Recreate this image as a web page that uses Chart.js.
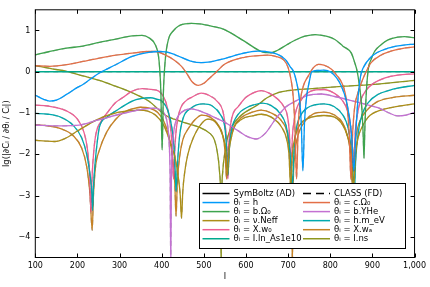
<!DOCTYPE html>
<html><head><meta charset="utf-8">
<script src="https://cdn.jsdelivr.net/npm/chart.js@4/dist/chart.umd.min.js"></script>
<style>html,body{margin:0;padding:0;background:#fff}canvas{display:block}</style>
</head><body>
<canvas id="c" width="430" height="287"></canvas>
<script>
// ---- data (multipole l, lg|dCl/dθ / Cl|) ----
const xTickVals = [100,200,300,400,500,600,700,800,900,1000];
const yTickVals = [-4,-3,-2,-1,0,1];

const lH = [100,120,134,150,174,200,213,252,291,330,369,393,410,432,471,494,510,549,590,628,645,675,693,705,713,720,726,731,735,739,744,750,756,770,784,800,815,826,838,846,851,856,861,867,872,878,898,937,970,1000];
const vH = [-0.57,-0.67,-0.71,-0.69,-0.55,-0.38,-0.31,-0.03,0.17,0.37,0.47,0.49,0.48,0.41,0.25,0.22,0.23,0.32,0.44,0.50,0.49,0.42,0.30,0.12,0.0,-0.25,-0.6,-1.2,-2.4,-1.2,-0.6,-0.25,0.0,0.03,0.04,0.0,-0.15,-0.34,-0.7,-1.14,-1.6,-2.4,-1.4,-0.5,-0.1,0.09,0.37,0.57,0.64,0.67];

const lC = [100,134,174,213,252,291,330,369,385,408,430,447,460,471,487,500,510,530,549,596,630,651,670,690,700,707,712,716,720,724,729,736,748,760,772,785,803,815,827,835,840,845,849,853,858,866,874,885,897,920,944,970,1000];
const vC = [0.15,0.13,0.17,0.25,0.33,0.40,0.45,0.49,0.49,0.41,0.28,0.13,-0.05,-0.23,-0.33,-0.28,-0.19,0.0,0.18,0.35,0.39,0.40,0.37,0.28,0.1,-0.2,-0.6,-1.3,-2.6,-1.3,-0.7,-0.35,-0.1,0.1,0.18,0.16,0.06,-0.08,-0.26,-0.5,-0.85,-1.5,-2.6,-1.5,-0.85,-0.5,-0.26,0.0,0.22,0.40,0.50,0.56,0.60];

const lG = [100,134,174,213,252,291,330,353,370,385,392,395,398,401,404,407,410,413,418,424,444,471,490,520,549,596,643,659,675,698,720,740,764,790,811,830,850,858,864,870,875,878,880,882,885,890,897,905,920,937,960,976,1000];
const vG = [0.41,0.49,0.57,0.62,0.71,0.79,0.87,0.88,0.82,0.65,0.4,0.1,-0.5,-1.9,-0.5,0.1,0.45,0.65,0.85,0.95,1.13,1.17,1.16,1.10,1.02,0.74,0.47,0.46,0.52,0.66,0.78,0.86,0.90,0.86,0.78,0.62,0.45,0.22,0.0,-0.4,-0.9,-1.5,-2.1,-1.4,-0.6,0.05,0.3,0.49,0.65,0.77,0.84,0.85,0.82];

const lY = [100,150,197,252,300,330,360,385,400,408,414,418,420,421.5,423,425,428,432,440,455,471,490,520,549,580,605,624,645,670,695,718,740,760,780,810,850,880,913,940,960,980,1000];
const vY = [-1.29,-1.31,-1.30,-1.16,-1.03,-0.96,-0.90,-0.88,-0.95,-1.04,-1.3,-1.8,-2.6,-4.7,-2.6,-1.9,-1.5,-1.25,-1.06,-0.93,-0.90,-0.95,-1.08,-1.22,-1.42,-1.58,-1.63,-1.5,-1.15,-0.85,-0.71,-0.6,-0.55,-0.54,-0.6,-0.7,-0.78,-0.87,-1.0,-1.07,-1.05,-0.99];

const lN = [100,125,146,170,201,230,260,290,320,345,365,385,405,420,432,440,444,447,450,455,462,475,495,510,530,545,552,556,560,565,572,590,615,636,660,685,697,702,706,710,715,722,735,755,785,810,830,842,850,855,860,866,875,890,920,960,1000];
const vN = [-1.66,-1.68,-1.69,-1.62,-1.43,-1.25,-1.1,-1.0,-0.95,-0.93,-0.95,-1.05,-1.3,-1.7,-2.1,-2.6,-3.0,-3.55,-2.9,-2.4,-2.0,-1.6,-1.25,-1.15,-1.25,-1.55,-1.9,-2.5,-1.9,-1.6,-1.35,-1.15,-1.07,-1.03,-1.1,-1.35,-1.65,-2.0,-2.8,-2.0,-1.65,-1.4,-1.2,-1.1,-1.06,-1.1,-1.3,-1.6,-2.0,-2.8,-2.0,-1.6,-1.35,-1.1,-0.93,-0.84,-0.78];

const lM = [100,130,160,190,210,222,230,234,236,238,242,247,252,270,291,330,350,373,390,400,415,424,429,432,434,437,442,450,470,498,520,540,549,553,557,561,566,580,600,620,639,660,680,695,702,707,710,714,720,730,745,765,785,810,830,842,849,854,857,860,866,875,890,913,940,960,1000];
const vM = [-1.01,-1.03,-1.1,-1.3,-1.6,-2.0,-2.5,-2.9,-3.36,-2.8,-2.2,-1.7,-1.35,-1.1,-0.95,-0.71,-0.65,-0.63,-0.67,-0.71,-0.95,-1.35,-1.8,-2.4,-2.9,-2.3,-1.6,-1.15,-0.88,-0.78,-0.83,-1.05,-1.3,-1.7,-2.5,-1.8,-1.4,-1.05,-0.88,-0.8,-0.76,-0.82,-1.0,-1.3,-1.7,-2.3,-2.8,-1.9,-1.35,-1.05,-0.88,-0.8,-0.78,-0.85,-1.05,-1.35,-1.8,-2.5,-3.0,-2.2,-1.5,-1.05,-0.75,-0.55,-0.45,-0.40,-0.33];

const lW = [100,130,174,200,215,224,229,232,235,239,244,256,268,290,307,330,354,375,393,405,413,419,424,428,432,437,445,458,471,494,510,534,545,550,554,557,560,564,570,581,600,620,636,655,675,690,698,703,707,710,714,720,730,745,765,785,800,820,835,845,850,855,859,865,872,885,900,930,960,1000];
const vW = [-0.81,-0.83,-0.95,-1.15,-1.45,-1.9,-2.5,-3.4,-2.5,-1.9,-1.5,-1.2,-1.03,-0.75,-0.63,-0.47,-0.41,-0.43,-0.47,-0.62,-0.85,-1.2,-1.7,-2.6,-1.7,-1.2,-0.88,-0.7,-0.62,-0.52,-0.56,-0.74,-0.95,-1.25,-1.7,-2.6,-1.7,-1.25,-1.0,-0.85,-0.62,-0.5,-0.46,-0.52,-0.66,-0.85,-1.06,-1.5,-2.5,-1.6,-1.2,-0.9,-0.7,-0.52,-0.44,-0.43,-0.47,-0.6,-0.8,-1.1,-1.5,-2.4,-1.5,-1.0,-0.7,-0.45,-0.3,-0.15,-0.08,-0.05];

const lA = [100,130,160,190,210,222,230,235,238,243,252,270,291,310,330,350,370,390,405,418,426,431,434,437,442,450,465,480,495,515,535,545,550,554,558,563,570,590,615,636,660,685,698,704,708,710,712,716,722,740,760,785,810,830,842,848,852,856,862,870,890,913,950,1000];
const vA = [-1.29,-1.31,-1.38,-1.55,-1.85,-2.3,-3.0,-3.84,-3.0,-2.3,-1.9,-1.45,-1.15,-0.98,-0.9,-0.86,-0.88,-0.98,-1.2,-1.6,-2.1,-2.7,-3.5,-2.7,-2.1,-1.65,-1.35,-1.15,-1.05,-1.1,-1.3,-1.55,-1.9,-2.6,-1.9,-1.55,-1.35,-1.1,-0.98,-0.93,-1.0,-1.2,-1.5,-2.0,-2.8,-4.7,-2.8,-2.0,-1.6,-1.2,-1.02,-0.98,-1.05,-1.25,-1.6,-2.0,-2.7,-2.0,-1.5,-1.2,-0.9,-0.72,-0.62,-0.57];

const lAs = [100,1000];
const vAs = [0,0];

const lS = [100,140,174,213,252,290,330,369,393,408,430,460,490,515,525,532,537,540,541,542,545,550,556,565,588,628,650,678,698,757,835,913,1000];
const vS = [0.15,0.07,0.01,-0.1,-0.21,-0.35,-0.51,-0.71,-0.92,-1.05,-1.15,-1.25,-1.35,-1.5,-1.65,-1.95,-2.4,-3.2,-4.7,-3.2,-2.4,-1.95,-1.6,-1.35,-1.06,-0.8,-0.63,-0.5,-0.46,-0.41,-0.35,-0.30,-0.21];

const seriesLabels = ['θᵢ = h','θᵢ = c.Ω₀','θᵢ = b.Ω₀','θᵢ = b.YHe','θᵢ = ν.Neff','θᵢ = h.m_eV','θᵢ = X.w₀','θᵢ = X.wₐ','θᵢ = I.ln_As1e10','θᵢ = I.ns'];
const seriesL = [lH,lC,lG,lY,lN,lM,lW,lA,lAs,lS];
const seriesV = [vH,vC,vG,vY,vN,vM,vW,vA,vAs,vS];
const colors = ['#009AFA','#E36F47','#3EA44E','#C371D2','#AC8E18','#00AAAE','#ED5E93','#C68225','#00A98D','#8E971D'];

const FONT = 'DejaVu Sans';

function rgba(hex, a) {
  const n = parseInt(hex.slice(1), 16);
  return 'rgba(' + (n >> 16) + ',' + ((n >> 8) & 255) + ',' + (n & 255) + ',' + a + ')';
}

const datasets = [];
seriesLabels.forEach((lab, k) => {
  const pts = seriesL[k].map((x, i) => ({x: x, y: seriesV[k][i]}));
  datasets.push({
    label: lab, data: pts, borderColor: colors[k], backgroundColor: colors[k],
    borderWidth: 1.3, pointRadius: 0, cubicInterpolationMode: 'monotone', fill: false
  });
  datasets.push({
    label: lab, overlay: true, data: pts, borderColor: rgba(colors[k], 0.45), backgroundColor: colors[k],
    borderWidth: 1.3, borderDash: [5, 4], pointRadius: 0, cubicInterpolationMode: 'monotone', fill: false,
    segment: {borderColor: () => 'rgba(40,40,40,0.35)'}
  });
});

const framePlugin = {
  id: 'frame',
  afterDatasetsDraw(chart) {
    const {ctx, chartArea: a, scales} = chart;
    const xs = scales.x, ys = scales.y;
    ctx.save();
    ctx.strokeStyle = '#000';
    ctx.lineWidth = 1;
    ctx.strokeRect(a.left, a.top, a.right - a.left, a.bottom - a.top);
    ctx.beginPath();
    xTickVals.forEach(v => {
      const p = Math.round(xs.getPixelForValue(v)) + 0.5;
      ctx.moveTo(p, a.bottom); ctx.lineTo(p, a.bottom - 4);
      ctx.moveTo(p, a.top); ctx.lineTo(p, a.top + 4);
    });
    yTickVals.forEach(v => {
      const p = Math.round(ys.getPixelForValue(v)) + 0.5;
      ctx.moveTo(a.left, p); ctx.lineTo(a.left + 4, p);
      ctx.moveTo(a.right, p); ctx.lineTo(a.right - 4, p);
    });
    ctx.stroke();

    // legend
    const bx = 199.5, by = 183.5, bw = 206, bh = 65;
    ctx.fillStyle = '#fff';
    ctx.fillRect(bx, by, bw, bh);
    ctx.strokeRect(bx, by, bw, bh);
    const entries = [{label: 'SymBoltz (AD)', color: '#000', dash: []}, {label: 'CLASS (FD)', color: '#000', dash: [8, 5]}]
      .concat(chart.data.datasets.filter(d => !d.overlay).map(d => ({label: d.label, color: d.borderColor, dash: []})));
    ctx.font = '8.5px "' + FONT + '"';
    ctx.textBaseline = 'middle';
    entries.forEach((e, i) => {
      const col = i % 2, row = Math.floor(i / 2);
      const y = 193.5 + row * 9.05;
      const x0 = col === 0 ? 202.5 : 303;
      ctx.strokeStyle = e.color;
      ctx.lineWidth = 1.5;
      ctx.setLineDash(e.dash);
      ctx.beginPath(); ctx.moveTo(x0, y); ctx.lineTo(x0 + 27, y); ctx.stroke();
      ctx.setLineDash([]);
      ctx.fillStyle = '#000';
      ctx.fillText(e.label, x0 + 31, y + 0.5);
    });
    ctx.restore();
  }
};

new Chart(document.getElementById('c'), {
  type: 'line',
  data: {datasets: datasets},
  options: {
    responsive: false,
    animation: false,
    devicePixelRatio: 1,
    layout: {padding: {left: 0, right: 11.5, top: 8, bottom: 0}},
    plugins: {legend: {display: false}, tooltip: {enabled: false}},
    scales: {
      x: {
        type: 'linear', min: 100, max: 1000,
        grid: {display: false, drawTicks: false},
        border: {display: false},
        ticks: {padding: 4, color: '#000', maxRotation: 0, font: {family: FONT, size: 8}},
        title: {display: true, text: 'l', color: '#000', font: {family: FONT, size: 8.5}, padding: {top: 0, bottom: 5}},
        afterBuildTicks: s => { s.ticks = xTickVals.map(v => ({value: v})); },
        afterFit: s => { s.height = 29.5; }
      },
      y: {
        type: 'linear', min: -4.5, max: 1.5,
        grid: {display: false, drawTicks: false},
        border: {display: false},
        ticks: {padding: 5, color: '#000', font: {family: FONT, size: 8},
          callback: v => String(v).replace('-', '\u2212')},
        title: {display: true, text: 'lg(|∂Cₗ / ∂θᵢ / Cₗ|)', color: '#000', font: {family: FONT, size: 8.5}, padding: {top: 2, bottom: 2}},
        afterBuildTicks: s => { s.ticks = yTickVals.map(v => ({value: v})); },
        afterFit: s => { s.width = 35.3; }
      }
    }
  },
  plugins: [framePlugin]
});
</script>
</body></html>
